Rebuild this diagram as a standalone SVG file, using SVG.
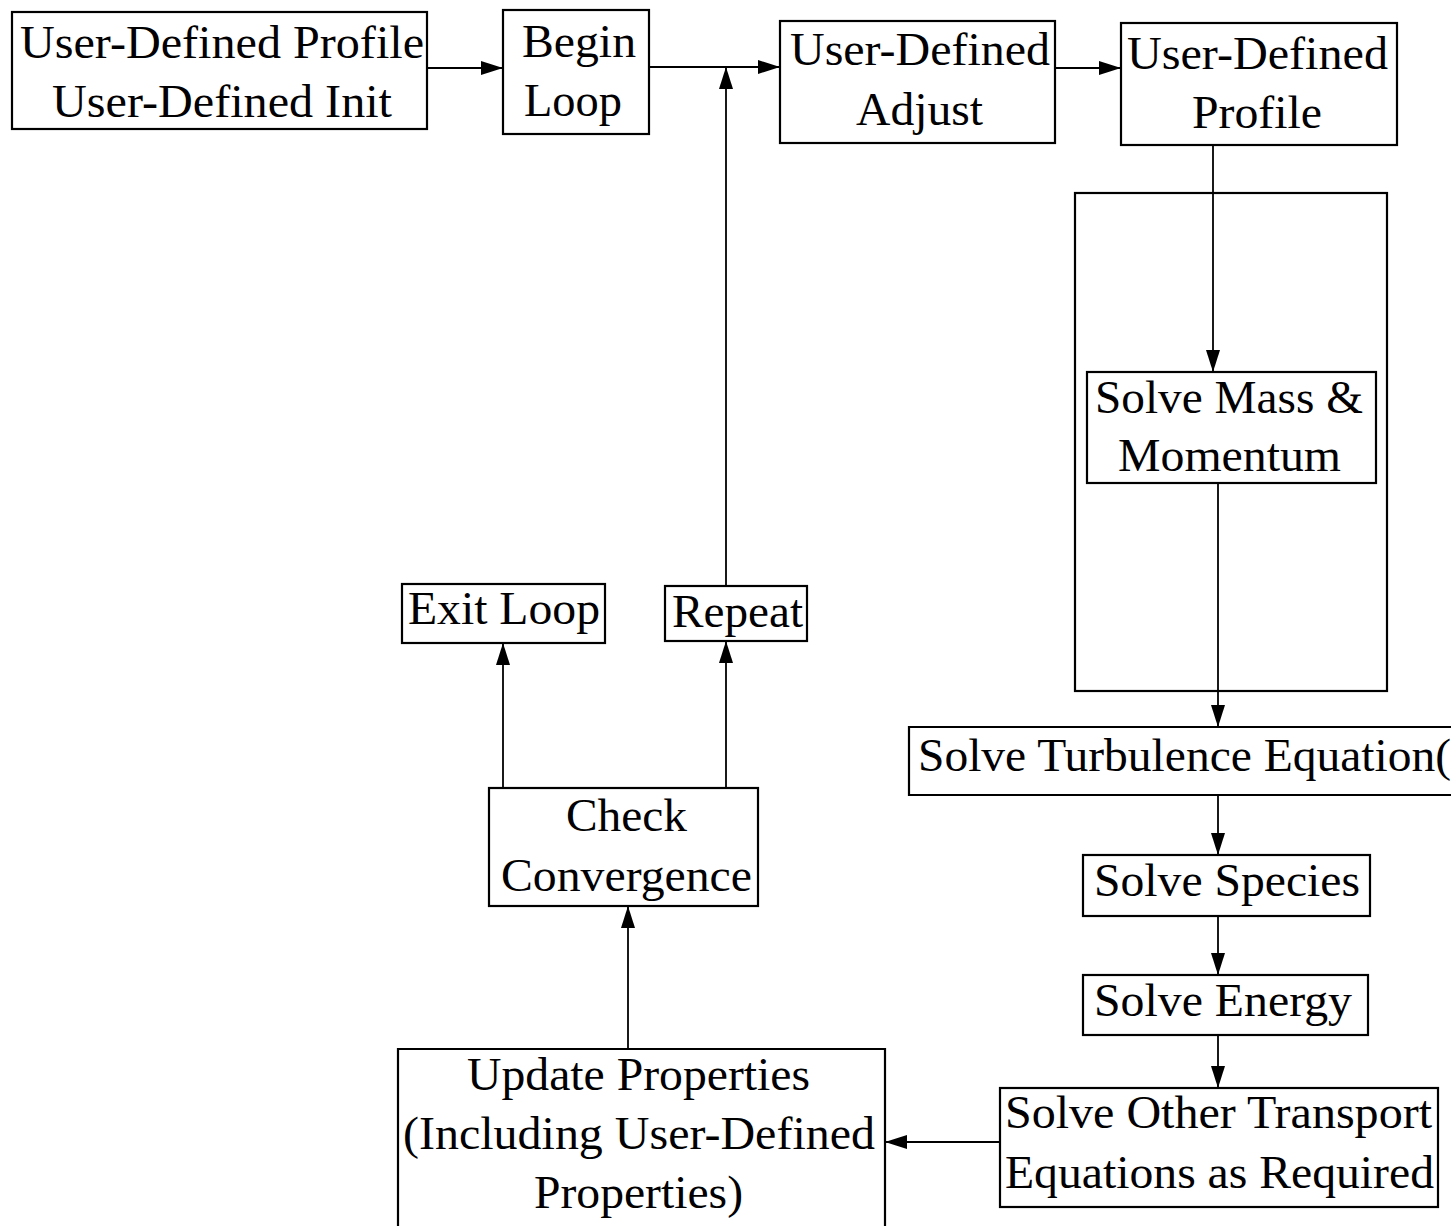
<svg xmlns="http://www.w3.org/2000/svg" width="1451" height="1226" viewBox="0 0 1451 1226">
<style>
.box{fill:#fff;stroke:#000;stroke-width:2.2}
.t{font-family:"Liberation Serif","Times New Roman",serif;font-size:47px;fill:#000;text-anchor:middle}
.ts{font-family:"Liberation Serif","Times New Roman",serif;font-size:47px;fill:#000;text-anchor:start}
.c{fill:none;stroke:#000;stroke-width:1.8}
</style>
<defs>
<marker id="ah" markerUnits="userSpaceOnUse" markerWidth="22" markerHeight="14" refX="22" refY="7" orient="auto">
<path d="M0,0 L22,7 L0,14 z" fill="#000"/>
</marker>
</defs>
<rect width="1451" height="1226" fill="#fff"/>
<g id="connectors">
<line class="c" x1="427" y1="68" x2="503" y2="68" marker-end="url(#ah)"/>
<line class="c" x1="649" y1="67" x2="780" y2="67" marker-end="url(#ah)"/>
<line class="c" x1="726" y1="586" x2="726" y2="67" marker-end="url(#ah)"/>
<line class="c" x1="1055" y1="68" x2="1121" y2="68" marker-end="url(#ah)"/>
<line class="c" x1="1213" y1="145" x2="1213" y2="372" marker-end="url(#ah)"/>
<line class="c" x1="1218" y1="483" x2="1218" y2="727" marker-end="url(#ah)"/>
<line class="c" x1="1218" y1="795" x2="1218" y2="855" marker-end="url(#ah)"/>
<line class="c" x1="1218" y1="916" x2="1218" y2="975" marker-end="url(#ah)"/>
<line class="c" x1="1218" y1="1035" x2="1218" y2="1088" marker-end="url(#ah)"/>
<line class="c" x1="1000" y1="1142" x2="885" y2="1142" marker-end="url(#ah)"/>
<line class="c" x1="628" y1="1049" x2="628" y2="906" marker-end="url(#ah)"/>
<line class="c" x1="503" y1="788" x2="503" y2="643" marker-end="url(#ah)"/>
<line class="c" x1="726" y1="788" x2="726" y2="641" marker-end="url(#ah)"/>
</g>
<g id="container">
<rect x="1075" y="193" width="312" height="498" fill="none" stroke="#000" stroke-width="2.2"/>
</g>
<g id="n-init">
<rect class="box" x="12" y="12" width="415" height="117"/>
<text class="t" x="222" y="58" textLength="404" lengthAdjust="spacingAndGlyphs">User-Defined Profile</text>
<text class="t" x="222" y="117" textLength="340" lengthAdjust="spacingAndGlyphs">User-Defined Init</text>
</g>
<g id="n-begin">
<rect class="box" x="503" y="10" width="146" height="124"/>
<text class="t" x="579" y="57" textLength="114" lengthAdjust="spacingAndGlyphs">Begin</text>
<text class="t" x="573" y="116" textLength="98" lengthAdjust="spacingAndGlyphs">Loop</text>
</g>
<g id="n-adjust">
<rect class="box" x="780" y="21" width="275" height="122"/>
<text class="t" x="920" y="65" textLength="260" lengthAdjust="spacingAndGlyphs">User-Defined</text>
<text class="t" x="919.5" y="125" textLength="127" lengthAdjust="spacingAndGlyphs">Adjust</text>
</g>
<g id="n-profile">
<rect class="box" x="1121" y="23" width="276" height="122"/>
<text class="t" x="1257.5" y="69" textLength="261" lengthAdjust="spacingAndGlyphs">User-Defined</text>
<text class="t" x="1257" y="128" textLength="130" lengthAdjust="spacingAndGlyphs">Profile</text>
</g>
<g id="n-mass">
<rect class="box" x="1087" y="372" width="289" height="111"/>
<text class="t" x="1229" y="413" textLength="268" lengthAdjust="spacingAndGlyphs">Solve Mass &amp;</text>
<text class="t" x="1229.5" y="471" textLength="223" lengthAdjust="spacingAndGlyphs">Momentum</text>
</g>
<g id="n-turb">
<path d="M1451,727 H909 V795 H1451" fill="#fff" stroke="#000" stroke-width="2.2"/>
<text class="ts" x="918" y="771" textLength="533" lengthAdjust="spacingAndGlyphs">Solve Turbulence Equation(</text>
</g>
<g id="n-species">
<rect class="box" x="1083" y="855" width="287" height="61"/>
<text class="t" x="1227" y="896" textLength="266" lengthAdjust="spacingAndGlyphs">Solve Species</text>
</g>
<g id="n-energy">
<rect class="box" x="1083" y="975" width="285" height="60"/>
<text class="t" x="1223" y="1016" textLength="258" lengthAdjust="spacingAndGlyphs">Solve Energy</text>
</g>
<g id="n-other">
<rect class="box" x="1000" y="1088" width="438" height="119"/>
<text class="t" x="1218.5" y="1128" textLength="427" lengthAdjust="spacingAndGlyphs">Solve Other Transport</text>
<text class="t" x="1219.5" y="1188" textLength="429" lengthAdjust="spacingAndGlyphs">Equations as Required</text>
</g>
<g id="n-update">
<path d="M398,1226 V1049 H885 V1226" fill="#fff" stroke="#000" stroke-width="2.2"/>
<text class="t" x="638.5" y="1090" textLength="343" lengthAdjust="spacingAndGlyphs">Update Properties</text>
<text class="t" x="639" y="1149" textLength="472" lengthAdjust="spacingAndGlyphs">(Including User-Defined</text>
<text class="t" x="638.5" y="1208" textLength="209" lengthAdjust="spacingAndGlyphs">Properties)</text>
</g>
<g id="n-check">
<rect class="box" x="489" y="788" width="269" height="118"/>
<text class="t" x="626.5" y="831" textLength="121" lengthAdjust="spacingAndGlyphs">Check</text>
<text class="t" x="626.5" y="891" textLength="251" lengthAdjust="spacingAndGlyphs">Convergence</text>
</g>
<g id="n-exit">
<rect class="box" x="402" y="584" width="203" height="59"/>
<text class="t" x="504" y="624" textLength="192" lengthAdjust="spacingAndGlyphs">Exit Loop</text>
</g>
<g id="n-repeat">
<rect class="box" x="665" y="586" width="142" height="55"/>
<text class="t" x="737.5" y="627" textLength="131" lengthAdjust="spacingAndGlyphs">Repeat</text>
</g>
</svg>
